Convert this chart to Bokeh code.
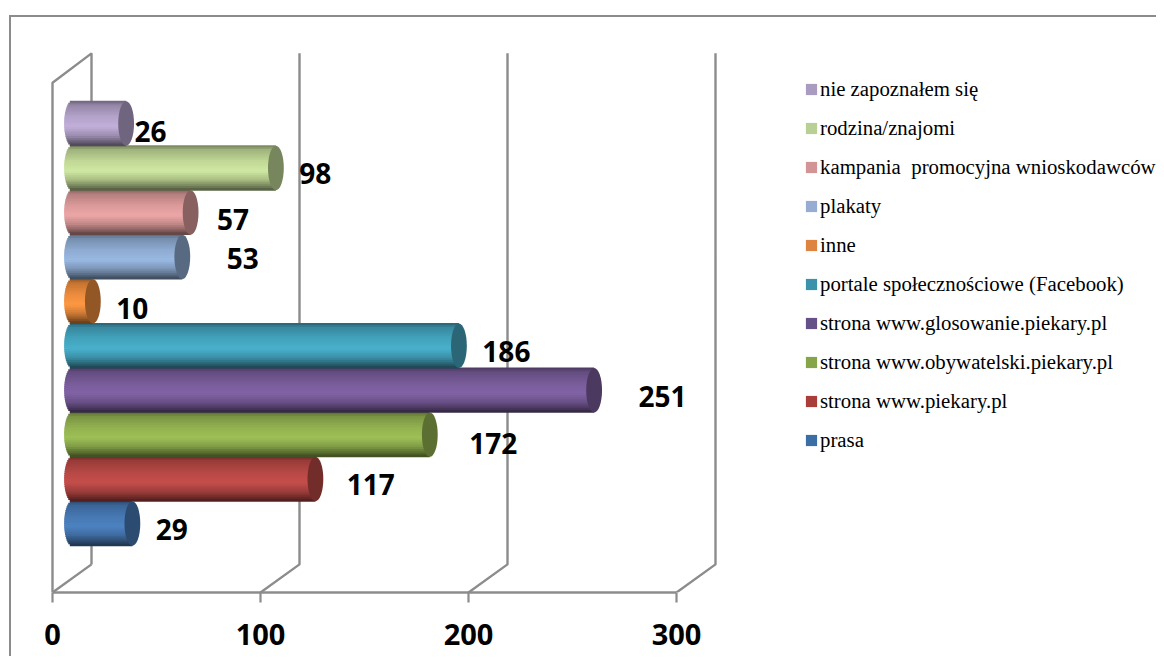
import math
from bokeh.embed import file_html
from bokeh.resources import INLINE
from bokeh.plotting import figure
from bokeh.models import (ColumnDataSource, FixedTicker, InlineStyleSheet, Legend,
                          LegendItem, LinearAxis, Range1d)
from bokeh.core.properties import value

# ---- data (bottom to top, as drawn) ----
categories = ["prasa", "strona www.piekary.pl", "strona www.obywatelski.piekary.pl",
              "strona www.glosowanie.piekary.pl", "portale społecznościowe (Facebook)",
              "inne", "plakaty", "kampania  promocyjna wnioskodawców",
              "rodzina/znajomi", "nie zapoznałem się"]
values = [29, 117, 172, 251, 186, 10, 53, 57, 98, 26]
colors = ["#4a7ebb", "#be4b48", "#98b954", "#7d60a0", "#46aac5",
          "#f59240", "#94b2da", "#e4a0a0", "#c8e09c", "#bba9d2"]
legend_colors = ["#3c6ea6", "#a83d3a", "#86a548", "#65508a", "#3a93ab",
                 "#dd8540", "#96acd2", "#d29494", "#b8d095", "#aa9bc0"]
axis_ticks = [0, 100, 200, 300]
label_dx = [59, 75, 83, 88, 67, 59, 80, 62, 59, 44]
label_dy = [6, 5, 9, 6, 6, 7, 2, 7, 6, 8]

# ---- 3-D layout, in data units ----
DEPTH = 18.75      # back wall offset along the value axis
BAR_SHIFT = 9.4    # cylinders stand mid-way in the depth
CAP = 3.8          # half width of the cylinder's end ellipse
BAR_H = 1.0
FLOOR, BACK_FLOOR = -1.5527, -0.92
FRONT_TOP, BACK_TOP = 9.92, 10.58
GREY = "#8c8c8c"

p = figure(width=1156, height=656, output_backend="svg", toolbar_location=None,
           x_range=Range1d(-25, 530.77), y_range=Range1d(FLOOR, 11.769),
           x_axis_location=None, y_axis_location=None,
           min_border_left=0, min_border_right=0, min_border_top=0, min_border_bottom=64,
           outline_line_color=None, background_fill_color="white", border_fill_color="white")
p.xgrid.visible = False
p.ygrid.visible = False

# value axis
axis = LinearAxis(ticker=FixedTicker(ticks=axis_ticks), bounds=(0, 300))
axis.axis_line_color = GREY
axis.axis_line_width = 2.4
axis.major_tick_line_color = GREY
axis.major_tick_line_width = 2.2
axis.major_tick_in = 0
axis.major_tick_out = 10
axis.minor_tick_line_color = None
axis.major_label_standoff = 21
axis.major_label_text_font = "Open Sans"
axis.major_label_text_font_style = "bold"
axis.major_label_text_font_size = "29px"
axis.major_label_text_color = "black"
p.add_layout(axis, "below")

# walls
xs, ys = [[0, 0, DEPTH, DEPTH]], [[FLOOR, FRONT_TOP, BACK_TOP, BACK_FLOOR]]
xs += [[0, DEPTH]]
ys += [[FLOOR, BACK_FLOOR]]
for t in axis_ticks[1:]:
    xs.append([t, t + DEPTH, t + DEPTH])
    ys.append([FLOOR, BACK_FLOOR, BACK_TOP])
p.multi_line(xs, ys, line_color=GREY, line_width=2.4)

# flat base bars: they carry the legend swatches
idx = list(range(len(values)))
base = p.hbar(y=idx, left=[BAR_SHIFT] * len(values), right=[BAR_SHIFT + v for v in values],
              height=0.7, fill_color=legend_colors, line_color=None)


def shade(t):
    stops = [(0, .58), (.10, .80), (.35, .96), (.58, 1.04), (.78, .84), (.92, .58), (1, .40)]
    for (a, fa), (b, fb) in zip(stops, stops[1:]):
        if t <= b:
            return fa + (fb - fa) * (t - a) / (b - a)
    return stops[-1][1]


def tint(hexcolor, f):
    rgb = [int(hexcolor[k:k + 2], 16) for k in (1, 3, 5)]
    return "#%02x%02x%02x" % tuple(min(255, int(c * f)) for c in rgb)


# cylinder bodies as thin horizontal strips, top to bottom
N = 24
for j in range(N):
    t = (j + .5) / N
    round_in = CAP * (1 - math.sqrt(max(0, 1 - (2 * t - 1) ** 2)))
    h = BAR_H / N
    p.hbar(y=[i + BAR_H / 2 - t * BAR_H for i in idx],
           left=[BAR_SHIFT - CAP + round_in] * len(values),
           right=[BAR_SHIFT + v for v in values],
           height=h * 1.5,
           fill_color=[tint(c, shade(t)) for c in colors], line_color=None)

# end caps
p.ellipse(x=[BAR_SHIFT + v for v in values], y=idx, width=2 * CAP, height=BAR_H,
          fill_color=[tint(c, .6) for c in colors], line_color=None)

# value labels
src = ColumnDataSource(dict(x=values, y=idx, t=[str(v) for v in values],
                            dx=label_dx, dy=label_dy))
p.text(x="x", y="y", text="t", x_offset="dx", y_offset="dy", source=src,
       text_font=value("Open Sans"), text_font_style="bold", text_font_size="28px",
       text_align="center", text_baseline="middle", text_color="black")

# legend, top entry first
items = [LegendItem(label=categories[i], renderers=[base], index=i) for i in reversed(idx)]
legend = Legend(items=items, location=(804, 140), orientation="vertical",
                background_fill_alpha=0, border_line_color=None,
                label_text_font="Liberation Serif", label_text_font_size="20.8px",
                label_text_color="black", glyph_width=14, glyph_height=14,
                label_standoff=2, spacing=15, margin=0, padding=0)
p.add_layout(legend, "center")

# outer chart border, open towards the page's edges
p.stylesheets = [InlineStyleSheet(css=""":host::after {
  content: ""; position: absolute; left: 9px; top: 15px; right: 0; bottom: 0;
  border-left: 2px solid #8c8c8c; border-top: 2px solid #8c8c8c; pointer-events: none;
}""")]

open("out.html", "w").write(file_html(p, INLINE))
